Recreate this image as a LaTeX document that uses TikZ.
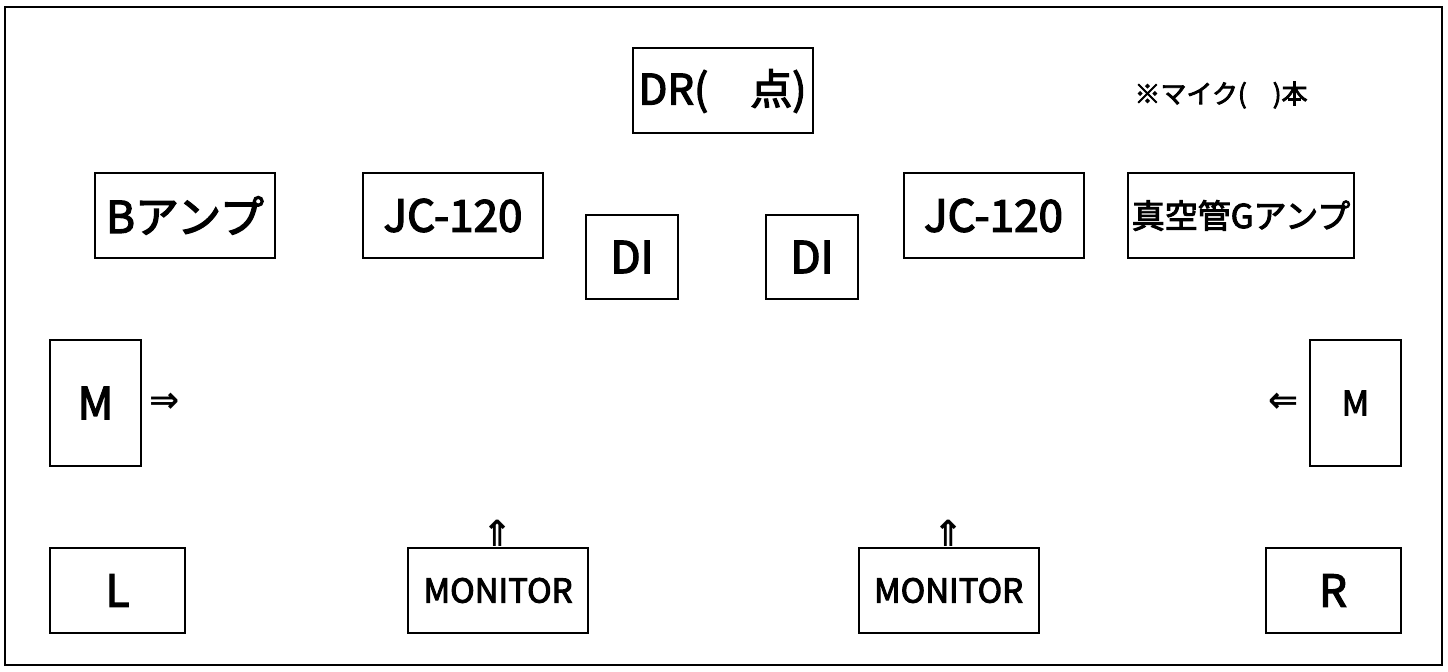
\documentclass[tikz,border=0pt]{standalone}
\usepackage{fontspec}
\setmainfont{Noto Sans CJK JP}
\newfontfamily\boxfont[FakeBold=3]{Noto Sans CJK JP}
\newfontfamily\arrowfont{DejaVu Sans}
\usetikzlibrary{positioning}

\begin{document}
\begin{tikzpicture}[x=0.5pt,y=-0.5pt,
  box/.style={draw,line width=1pt,inner sep=0pt,minimum width=90pt,minimum height=42.5pt,font=\boxfont\fontsize{22}{22}\selectfont},
  dibox/.style={box,minimum width=46pt,minimum height=42pt},
  tallbox/.style={box,minimum width=45.5pt,minimum height=63pt},
  sidebox/.style={box,minimum width=67.5pt},
  small/.style={font=\boxfont\fontsize{16.5}{16.5}\selectfont},
  sign/.style={inner sep=0pt,font=\arrowfont\bfseries\fontsize{18}{18}\selectfont}]
\useasboundingbox (0,0) rectangle (1448,672);
\draw[line width=1.3pt] (5,7) rectangle (1442,665);

% top row
\node[box,font=\boxfont\fontsize{21}{21}\selectfont] (dr) at (722.5,91) {DR(　点)};
\node[font=\boxfont\fontsize{13}{13}\selectfont] (mic) at (1221,95) {※マイク(　)本};

% amps and DI
\node[box] (bamp) at (185,215.5) {Bアンプ};
\node[box] (jcl) at (453,215.5) {JC-120};
\node[dibox] (dil) at (632,257) {DI};
\node[dibox] (dir) at (812,257) {DI};
\node[box] (jcr) at (993.5,215.5) {JC-120};
\node[box,small,minimum width=113pt] (gamp) at (1241,215.5) {真空管Gアンプ};

% mics
\node[tallbox] (ml) at (95.5,403) {M};
\node[tallbox,font=\boxfont\fontsize{17}{17}\selectfont] (mr) at (1355.5,403) {M};
\node[sign,right=3.5pt of ml] (al) {⇒};
\node[sign,left=5pt of mr] (ar) {⇐};

% bottom row
\node[sidebox] (lsp) at (117.5,590.5) {L};
\node[box,small] (monl) at (498,590.5) {MONITOR};
\node[box,small] (monr) at (948.5,590.5) {MONITOR};
\node[sidebox] (rsp) at (1333,590.5) {R};
\node[sign,above=0pt of monl] (ul) {⇑};
\node[sign,above=0pt of monr] (ur) {⇑};

\end{tikzpicture}
\end{document}
